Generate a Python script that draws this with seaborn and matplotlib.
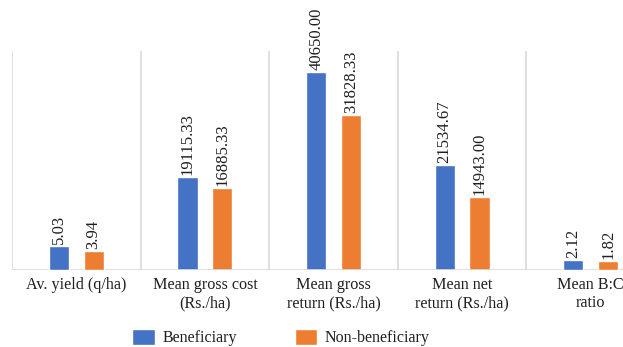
import matplotlib
matplotlib.use("Agg")
import matplotlib.pyplot as plt
from matplotlib.patches import Patch
import seaborn as sns
import pandas as pd
import numpy as np

categories = ["Av. yield (q/ha)", "Mean gross cost\n(Rs./ha)", "Mean gross\nreturn (Rs./ha)",
              "Mean net\nreturn (Rs./ha)", "Mean B:C\nratio"]
beneficiary = [5.03, 19115.33, 40650.00, 21534.67, 2.12]
non_beneficiary = [3.94, 16885.33, 31828.33, 14943.00, 1.82]
groups = ["Beneficiary", "Non-beneficiary"]
colors = ["#4472C4", "#ED7D31"]
# yield and B:C ratio are small-unit measures, drawn against their own axis
small_unit = [True, False, False, False, True]

sns.set_theme(style="white")
plt.rcParams["font.family"] = ["Liberation Serif", "DejaVu Serif"]

rows = []
for cat, b, n, small in zip(categories, beneficiary, non_beneficiary, small_unit):
    rows.append({"cat": cat, "group": groups[0], "value": b, "small": small})
    rows.append({"cat": cat, "group": groups[1], "value": n, "small": small})
df = pd.DataFrame(rows)

fig = plt.figure(figsize=(6.23, 3.47), dpi=100)
ax = fig.add_axes([12 / 623, 1 - 270 / 347, 643 / 623, 219 / 347])
ax2 = ax.twinx()

common = dict(x="cat", y="value", hue="group", order=categories, hue_order=groups,
              palette=colors, width=0.54, gap=0.42, legend=False, errorbar=None,
              saturation=1)
sns.barplot(data=df[~df["small"]], ax=ax, **common)
sns.barplot(data=df[df["small"]], ax=ax2, **common)

ax.set_ylim(0, 45000)
ax2.set_ylim(0, 46)
ax.set_xlim(-0.5, 4.5)
ax2.set_xlim(-0.5, 4.5)

for a in (ax, ax2):
    for cont in a.containers:
        a.bar_label(cont, fmt="%.2f", rotation=90, padding=1.5, fontsize=12, color="#1f1f1f")
    a.set_ylabel("")
    a.set_xlabel("")
    a.set_yticks([])
    for s in a.spines.values():
        s.set_visible(False)

ax.set_xticks(range(len(categories)))
ax.set_xticklabels(categories, fontsize=11.6, color="#1f1f1f", linespacing=1.2)
ax.tick_params(axis="x", length=0, pad=5)
ax.set_xticks(np.arange(-0.5, 5, 1), minor=True)
ax.grid(True, which="minor", axis="x", color="#d9d9d9", linewidth=1.2)
ax.grid(False, which="major")
ax.axhline(0, color="#d9d9d9", linewidth=1.2)
ax2.grid(False)

handles = [Patch(facecolor=c, label=g) for c, g in zip(colors, groups)]
fig.legend(handles=handles, loc="center", bbox_to_anchor=(281 / 623, 1 - 337.5 / 347),
           ncol=2, frameon=False, fontsize=11.5, handlelength=1.4, handleheight=1.2,
           columnspacing=3.6, handletextpad=0.5, labelcolor="#1f1f1f")

fig.savefig("out.png", dpi=100)
